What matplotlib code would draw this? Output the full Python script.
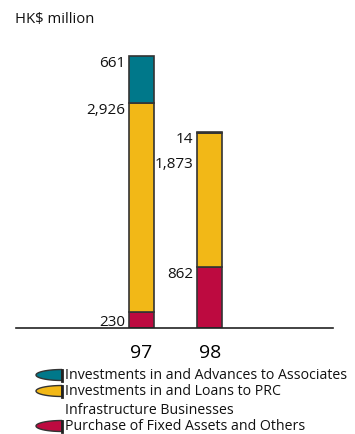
import numpy as np
import matplotlib.pyplot as plt
from matplotlib.patches import Polygon

plt.rcParams['font.family'] = ['Open Sans', 'DejaVu Sans']

years = ["97", "98"]
others = [230, 862]
prc_infra = [2926, 1873]
associates = [661, 14]

series_names = ["Investments in and Advances to Associates",
                "Investments in and Loans to PRC\nInfrastructure Businesses",
                "Purchase of Fixed Assets and Others"]
teal = "#00788a"
yellow = "#f2b817"
crimson = "#bd0a40"
edge = "#333333"

fig = plt.figure(figsize=(3.55, 4.35), dpi=100)
W, H = 355, 435

# plot area: baseline at y=329px, bars centred at x=141 and x=209.5
ax = fig.add_axes([16 / W, (H - 329) / H, 317 / W, 285 / H])
x = np.arange(len(years))
width = 0.36
stack = [(others, crimson), (prc_infra, yellow), (associates, teal)]
bottom = np.zeros(len(years))
tops = []
for vals, col in stack:
    ax.bar(x, vals, width, bottom=bottom, color=col, edgecolor=edge, linewidth=1.2, zorder=2)
    bottom = bottom + np.array(vals)
    tops.append(bottom.copy())

# value labels to the left of each segment
label_shift = {(0, 0): -10, (0, 1): -6, (0, 2): -6,
               (1, 0): -7, (1, 1): -30, (1, 2): -6}
for si, (vals, col) in enumerate(stack):
    for i, v in enumerate(vals):
        ax.annotate(f"{v:,}", (x[i] - width / 2, tops[si][i]),
                    xytext=(-4, label_shift[(i, si)]), textcoords="offset pixels",
                    ha="right", va="center", fontsize=11, color="#111111")

ax.set_xlim(-1.83, 2.8)
ax.set_ylim(0, 4000)
for s in ["top", "right", "left"]:
    ax.spines[s].set_visible(False)
ax.spines["bottom"].set_linewidth(1.2)
ax.spines["bottom"].set_color("#222222")
ax.set_yticks([])
ax.set_xticks(x)
ax.set_xticklabels(years, fontsize=14)
ax.tick_params(axis="x", length=0, pad=11)

fig.text(15 / W, 1 - 20 / H, "HK$ million", fontsize=10.7, va="center", ha="left", color="#111111")

# legend drawn in pixel space
lg = fig.add_axes([0, 0, 1, 1], facecolor="none")
lg.set_xlim(0, W)
lg.set_ylim(H, 0)
lg.axis("off")
t = np.linspace(-np.pi / 2, np.pi / 2, 40)
marker_rows = [376, 392, 427]
for name, col, ym in zip(series_names, [teal, yellow, crimson], marker_rows):
    pts = np.column_stack([62 - 26 * np.cos(t), ym + 5.5 * np.sin(t)])
    lg.add_patch(Polygon(pts, closed=True, facecolor=col, edgecolor=edge, linewidth=1.0))
    lg.plot([62, 62], [ym - 5.5, ym + 5.5], color="#222222", lw=2)
    if "\n" in name:
        first, second = name.split("\n")
        lg.text(65, ym, first, fontsize=10.2, va="center", ha="left", color="#111111")
        lg.text(65, ym + 18.5, second, fontsize=10.2, va="center", ha="left", color="#111111")
    else:
        lg.text(65, ym, name, fontsize=10.2, va="center", ha="left", color="#111111")

fig.savefig("out.png", dpi=100)
